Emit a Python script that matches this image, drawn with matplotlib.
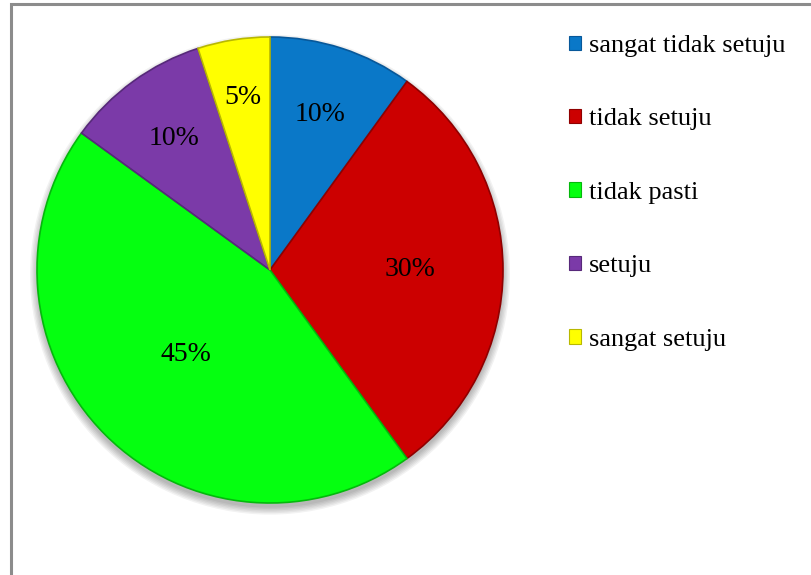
import numpy as np
import matplotlib.pyplot as plt
from matplotlib.patches import Rectangle, Circle, Patch

labels = ["sangat tidak setuju", "tidak setuju", "tidak pasti", "setuju", "sangat setuju"]
values = [10, 30, 45, 10, 5]
colors = ["#0A78C8", "#CC0000", "#05FF10", "#7B3AA8", "#FFFF00"]
edges = ["#07589a", "#8f0000", "#04b80c", "#57297a", "#b8b800"]
# label distance from centre, as a fraction of the radius
label_dist = [0.70, 0.60, 0.51, 0.70, 0.75]

plt.rcParams['font.family'] = ['Liberation Serif', 'DejaVu Serif']

fig = plt.figure(figsize=(8.12, 5.75), dpi=100)

# outer frame (only top and left edges are visible)
fig.patches.append(Rectangle((11 / 812, -0.1), 1.2, 1 - 4 / 575 + 0.1,
                             transform=fig.transFigure, fill=False,
                             edgecolor="#8c8c8c", linewidth=2.2))

ax = fig.add_axes([37 / 812, 72 / 575, 466 / 812, 466 / 575])

# soft shadow under the pie
for i in range(6):
    ax.add_patch(Circle((0.0, -0.02), 1.0 + 0.006 * i, color="black",
                        alpha=0.05, zorder=0, linewidth=0, clip_on=False))

wedges, _ = ax.pie(values, colors=colors, startangle=90, counterclock=False,
                   radius=1.0, center=(0, 0), frame=True,
                   wedgeprops=dict(linewidth=1.2))
for w, ec in zip(wedges, edges):
    w.set_edgecolor(ec)
    w.set_zorder(2)
ax.set_xlim(-1, 1)
ax.set_ylim(-1, 1)
ax.axis("off")

for w, v, d in zip(wedges, values, label_dist):
    ang = np.deg2rad((w.theta1 + w.theta2) / 2)
    ax.text(d * np.cos(ang), d * np.sin(ang), f"{v}%", ha="center",
            va="center", fontsize=20, color="black", zorder=3)

handles = [Patch(facecolor=c, edgecolor=e, linewidth=0.8) for c, e in zip(colors, edges)]
fig.legend(handles, labels, loc="upper left", bbox_to_anchor=(569 / 812, 1 - 35 / 575),
           frameon=False, fontsize=19, labelspacing=1.95, handlelength=0.45,
           handleheight=0.45, handletextpad=0.3, borderpad=0, borderaxespad=0)

fig.savefig("out.png", dpi=100)
